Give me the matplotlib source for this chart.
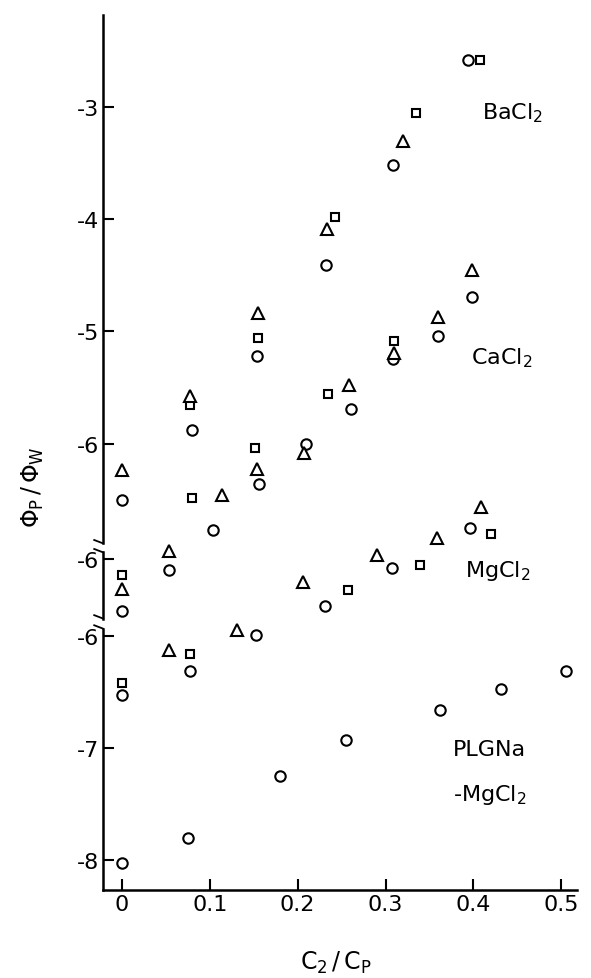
import numpy as np
import matplotlib
matplotlib.use('Agg')
import matplotlib.pyplot as plt

# DATA (each salt has its own y scale, see shifts below)
ba_tri_x = [0.0, 0.078, 0.155, 0.233, 0.320]
ba_tri_y = [-6.24, -5.58, -4.84, -4.09, -3.30]
ba_sq_x = [0.077, 0.155, 0.243, 0.335, 0.408]
ba_sq_y = [-5.66, -5.06, -3.98, -3.05, -2.58]
ba_circ_x = [0.0, 0.080, 0.154, 0.232, 0.309, 0.394]
ba_circ_y = [-6.50, -5.88, -5.22, -4.41, -3.52, -2.58]

ca_tri_x = [0.114, 0.154, 0.207, 0.258, 0.310, 0.360, 0.399]
ca_tri_y = [-6.46, -6.23, -6.08, -5.48, -5.19, -4.87, -4.45]
ca_sq_x = [0.080, 0.151, 0.235, 0.310]
ca_sq_y = [-6.49, -6.04, -5.56, -5.09]
ca_circ_x = [0.104, 0.156, 0.209, 0.261, 0.309, 0.360, 0.399]
ca_circ_y = [-6.77, -6.36, -6.00, -5.69, -5.25, -5.04, -4.69]

mg_tri_x = [0.0, 0.053, 0.206, 0.290, 0.359, 0.409]
mg_tri_y = [-6.27, -5.93, -6.20, -5.96, -5.81, -5.54]
mg_sq_x = [0.0, 0.257, 0.339, 0.420]
mg_sq_y = [-6.14, -6.28, -6.05, -5.78]
mg_circ_x = [0.0, 0.053, 0.231, 0.307, 0.396]
mg_circ_y = [-6.46, -6.10, -6.42, -6.08, -5.72]

plg_tri_x = [0.053, 0.131]
plg_tri_y = [-6.13, -5.95]
plg_sq_x = [0.0, 0.078]
plg_sq_y = [-6.42, -6.16]
plg_circ_x = [0.0, 0.0, 0.075, 0.077, 0.153, 0.180, 0.255, 0.362, 0.431, 0.505]
plg_circ_y = [-6.53, -8.02, -7.80, -6.31, -5.99, -7.25, -6.93, -6.66, -6.47, -6.31]

# OFFSETS OF THE BROKEN Y SCALES
mg_shift = -1.03
plg_shift = -1.715

xticks = [0, 0.1, 0.2, 0.3, 0.4, 0.5]
xticklabels = ['0', '0.1', '0.2', '0.3', '0.4', '0.5']
yticks = [-3, -4, -5, -6, -6 + mg_shift, -6 + plg_shift, -7 + plg_shift, -8 + plg_shift]
yticklabels = ['-3', '-4', '-5', '-6', '-6', '-6', '-7', '-8']

fig = plt.figure(figsize=(5.91, 9.79), dpi=100)
ax = fig.add_axes([103 / 591, 1 - 891 / 979, 474 / 591, 875 / 979])

mk = dict(linestyle='none', mfc='white', mec='black', mew=1.5, clip_on=False)
for shift, tx, ty, sx, sy, cx, cy in [
        (0, ba_tri_x, ba_tri_y, ba_sq_x, ba_sq_y, ba_circ_x, ba_circ_y),
        (0, ca_tri_x, ca_tri_y, ca_sq_x, ca_sq_y, ca_circ_x, ca_circ_y),
        (mg_shift, mg_tri_x, mg_tri_y, mg_sq_x, mg_sq_y, mg_circ_x, mg_circ_y),
        (plg_shift, plg_tri_x, plg_tri_y, plg_sq_x, plg_sq_y, plg_circ_x, plg_circ_y)]:
    ax.plot(cx, np.array(cy) + shift, marker='o', ms=7.5, **mk)
    ax.plot(sx, np.array(sy) + shift, marker='s', ms=6.3, **mk)
    ax.plot(tx, np.array(ty) + shift, marker='^', ms=8, **mk)

ax.set_xlim(-0.0216, 0.518)
ax.set_ylim(-9.98, -2.18)
ax.set_xticks(xticks)
ax.set_xticklabels(xticklabels, fontsize=16)
ax.set_yticks(yticks)
ax.set_yticklabels(yticklabels, fontsize=16)
ax.tick_params(direction='in', length=8, width=1.5, pad=3)
ax.spines['top'].set_visible(False)
ax.spines['right'].set_visible(False)
ax.spines['bottom'].set_linewidth(1.8)
ax.spines['left'].set_visible(False)

# LEFT AXIS DRAWN IN THREE PIECES WITH BREAKS
breaks = [(-6.89, -6.97), (-7.56, -7.65)]
segs = [(-2.18, breaks[0][0]), (breaks[0][1], breaks[1][0]), (breaks[1][1], -9.98)]
x0 = -0.0216
for a, b in segs:
    ax.plot([x0, x0], [a, b], color='black', lw=1.8, clip_on=False)
for a, b in breaks:
    ax.plot([x0, x0 - 0.01], [a, a + 0.03], color='black', lw=1.3, clip_on=False)
    ax.plot([x0, x0 - 0.01], [b, b + 0.03], color='black', lw=1.3, clip_on=False)

# SERIES LABELS
ax.text(0.41, -3.05, r'BaCl$_2$', fontsize=16, va='center')
ax.text(0.397, -5.23, r'CaCl$_2$', fontsize=16, va='center')
ax.text(0.391, -7.13, r'MgCl$_2$', fontsize=16, va='center')
ax.text(0.377, -8.72, 'PLGNa', fontsize=16, va='center')
ax.text(0.377, -9.12, r'-MgCl$_2$', fontsize=16, va='center')

fig.text(336 / 591, 1 - 963 / 979, r'$\mathrm{C_2\,/\,C_P}$', fontsize=17, ha='center', va='center')
fig.text(33 / 591, 1 - 487 / 979, r'$\Phi_\mathrm{P}\,/\,\Phi_\mathrm{W}$', fontsize=17,
         ha='center', va='center', rotation=90)

fig.savefig('out.png', dpi=100)
